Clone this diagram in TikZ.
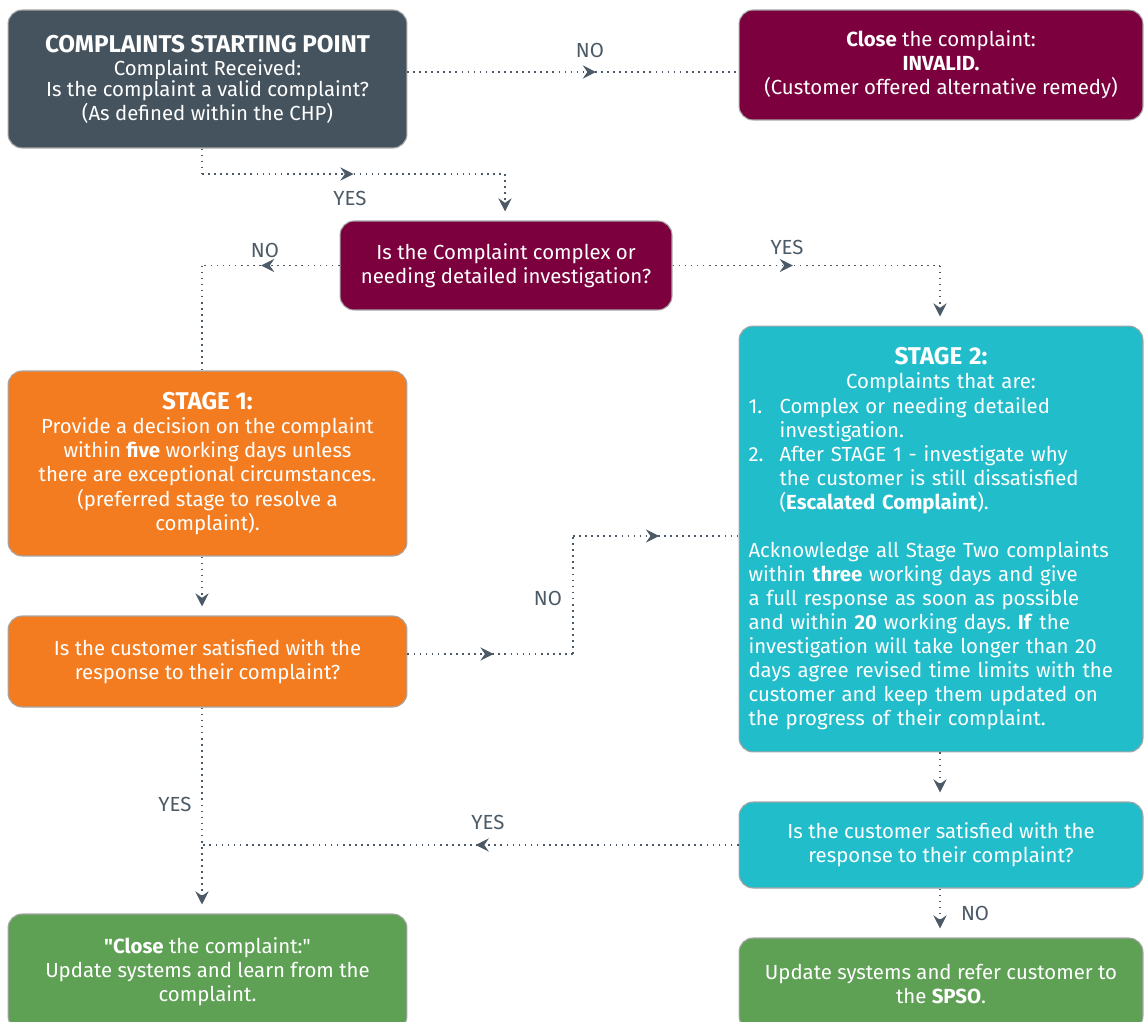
\documentclass[tikz,border=0pt]{standalone}
\usepackage{fontspec}
\setmainfont{Fira Sans}[Ligatures=TeXOff]
\usetikzlibrary{arrows.meta,decorations.markings}
\definecolor{slate}{RGB}{69,83,94}
\definecolor{maroon}{RGB}{123,0,61}
\definecolor{brandorange}{RGB}{244,124,32}
\definecolor{teal}{RGB}{33,189,202}
\definecolor{brandgreen}{RGB}{94,161,85}
\definecolor{linegray}{RGB}{75,90,102}
\frenchspacing
\tikzset{
  box/.style={draw=gray!70, line width=0.6pt, rounded corners=8pt, text=white, align=center,
    font=\fontsize{11.6}{13.7}\selectfont},
  flow/.style={draw=linegray, line width=0.95pt, dash pattern=on 0.95pt off 2.5pt},
  tip/.tip={Stealth[length=7.5pt,width=7.5pt,inset=2.6pt]},
  midarrow/.style={postaction={decorate}, decoration={markings,
    mark=at position #1 with {\arrow[linegray]{tip}}}},
  endarrow/.style={-tip, shorten >=0.18cm},
  lbl/.style={text=linegray, font=\fontsize{11.6}{13.7}\selectfont}
}
\newcommand{\boxhead}[1]{{\fontsize{13.8}{16}\selectfont\bfseries #1}}
\begin{document}
\begin{tikzpicture}[x=0.02cm,y=-0.02cm]
\useasboundingbox (0,0) rectangle (1145,1021);
\clip (0,0) rectangle (1145,1021);
% boxes
\node[box,fill=slate,minimum width=7.98cm,minimum height=2.76cm,font=\fontsize{11.6}{11.9}\selectfont] (start) at (207.5,79)
  {\boxhead{COMPLAINTS STARTING POINT}\\[1.5pt]Complaint Received:\\Is the complaint a valid complaint?\\(As defined within the CHP)};
\node[box,fill=maroon,minimum width=8.08cm,minimum height=2.2cm] (invalid) at (941,65)
  {\textbf{Close} the complaint:\\\textbf{INVALID.}\\(Customer offered alternative remedy)};
\node[box,fill=maroon,minimum width=6.64cm,minimum height=1.78cm] (complex) at (506,265.5)
  {Is the Complaint complex or\\needing detailed investigation?};
\node[box,fill=brandorange,minimum width=7.98cm,minimum height=3.7cm] (stageone) at (207.5,463.5)
  {\boxhead{STAGE 1:}\\Provide a decision on the complaint\\within \textbf{five} working days unless\\there are exceptional circumstances.\\(preferred stage to resolve a\\complaint).};
\node[box,fill=brandorange,minimum width=7.98cm,minimum height=1.82cm] (satone) at (207.5,661.5)
  {Is the customer satisfied with the\\response to their complaint?};
\node[box,fill=teal,minimum width=8.08cm,minimum height=8.52cm,text width=7.7cm,align=left] (stagetwo) at (941,539)
  {\makebox[\linewidth]{\boxhead{STAGE 2:}}\\
   \makebox[\linewidth]{Complaints that are:}\\
   \makebox[0.62cm][l]{1.}Complex or needing detailed\\
   \hspace*{0.62cm}investigation.\\
   \makebox[0.62cm][l]{2.}After STAGE 1 - investigate why\\
   \hspace*{0.62cm}the customer is still dissatisfied\\
   \hspace*{0.62cm}(\textbf{Escalated Complaint}).\\[13.7pt]
   Acknowledge all Stage Two complaints\\
   within \textbf{three} working days and give\\
   a full response as soon as possible\\
   \makebox[\linewidth][l]{and within \textbf{20} working days. \textbf{If} the}\\
   investigation will take longer than 20\\
   days agree revised time limits with the\\
   customer and keep them updated on\\
   the progress of their complaint.};
\node[box,fill=teal,minimum width=8.08cm,minimum height=1.72cm] (sattwo) at (941,845)
  {Is the customer satisfied with the\\response to their complaint?};
\node[box,fill=brandgreen,minimum width=7.98cm,minimum height=2.32cm] (closed) at (207.5,972)
  {\textbf{"Close} the complaint:"\\Update systems and learn from the\\complaint.};
\node[box,fill=brandgreen,minimum width=8.08cm,minimum height=1.84cm] (spso) at (941,984)
  {Update systems and refer customer to\\the \textbf{SPSO}.};
% connectors
\coordinate (na) at (407,72);
\draw[flow,midarrow=0.57] (na) -- (na -| invalid.west);
\coordinate (ya) at (202,174);
\coordinate (yb) at (505,174);
\draw[flow] (start.south -| ya) -- (ya);
\draw[flow,midarrow=0.5] (ya) -- (yb);
\draw[flow,endarrow] (yb) -- (complex.north -| yb);
\coordinate (nb) at (202,265.5);
\draw[flow,midarrow=0.57] (complex.west) -- (nb);
\draw[flow] (nb) -- (stageone.north -| nb);
\coordinate (yc) at (940,265.5);
\draw[flow,midarrow=0.45] (complex.east) -- (yc);
\draw[flow,endarrow] (yc) -- (stagetwo.north -| yc);
\draw[flow,endarrow] (stageone.south -| nb) -- (satone.north -| nb);
\coordinate (nc) at (573,654);
\coordinate (nd) at (573,536);
\draw[flow,midarrow=0.52] (satone.east |- nc) -- (nc);
\draw[flow] (nc) -- (nd);
\draw[flow,midarrow=0.52] (nd) -- (nd -| stagetwo.west);
\draw[flow,endarrow] (stagetwo.south -| yc) -- (sattwo.north -| yc);
\draw[flow,endarrow] (satone.south -| nb) -- (closed.north -| nb);
\draw[flow,midarrow=0.49] (sattwo.west) -- (sattwo.west -| nb);
\draw[flow,endarrow] (sattwo.south -| yc) -- (spso.north -| yc);
% labels
\node[lbl] (lna) at (590,50) {NO};
\node[lbl] (lya) at (350,198) {YES};
\node[lbl] (lnb) at (265,250) {NO};
\node[lbl] (lyb) at (787,247) {YES};
\node[lbl] (lnc) at (548,598) {NO};
\node[lbl] (lyc) at (175,804) {YES};
\node[lbl] (lyd) at (488,822) {YES};
\node[lbl] (lnd) at (975,913) {NO};
\end{tikzpicture}
\end{document}
